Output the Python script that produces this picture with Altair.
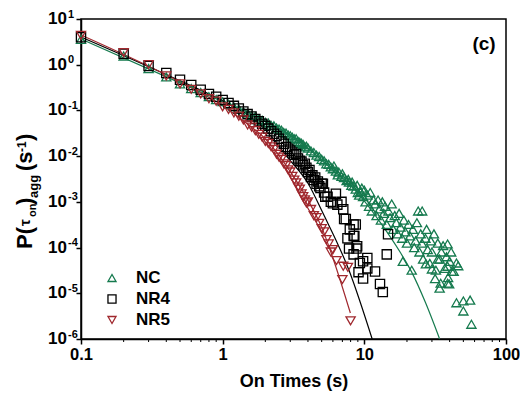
import altair as alt
import pandas as pd

# ---------------- data ----------------
series_names = ["NC", "NR4", "NR5"]
series_colors = ["#157a4e", "#000000", "#a0282e"]
series_shapes = ["triangle-up", "square", "triangle-down"]

nc_t = [0.1, 0.2, 0.3, 0.4, 0.5, 0.6, 0.7, 0.8, 0.9, 1.0,
        1.1, 1.2, 1.3, 1.4, 1.5, 1.6, 1.7, 1.8, 1.9, 2.0,
        2.1, 2.2, 2.3, 2.4, 2.5, 2.6, 2.7, 2.8, 2.9, 3.0,
        3.1, 3.2, 3.3, 3.4, 3.5, 3.6, 3.7, 3.8, 3.9, 4.0,
        4.2, 4.4, 4.6, 4.8, 5.0, 5.2, 5.4, 5.6, 5.8, 6.0,
        6.1, 6.3, 6.5, 6.6, 6.9, 7.0, 7.2, 7.5, 7.7, 7.8, 8.1, 8.2, 8.4, 8.7, 8.9, 9.0, 9.2, 9.4, 9.6, 9.8,
        10.0, 10.2, 10.5, 10.8, 11.0, 11.3, 11.6, 11.9, 12.2, 12.5, 12.8, 13.1, 13.4, 13.7, 14.0,
        14.4, 14.8, 15.2, 15.6, 16.0, 16.4, 16.8, 17.2, 17.6, 18.0, 18.5, 18.7, 19.0, 19.5, 20.0,
        20.5, 21.0, 21.6, 22.0, 22.5, 23.0, 23.5, 24.0, 24.5, 25.0, 25.5, 25.6, 26.0, 27.0, 27.2,
        27.5, 28.0, 29.0, 29.5, 30.0, 30.0, 31.0, 31.6, 32.0, 33.0, 33.0, 34.0, 34.0, 34.6, 35.0,
        36.0, 37.0, 38.0, 38.7, 38.7, 38.7, 39.0, 39.7, 40.0, 41.0, 41.5, 42.7, 44.7, 44.7, 46.0,
        50.0, 50.0, 55.8, 57.0]
nc_p = [3.6, 1.55, 0.82, 0.54, 0.38, 0.30, 0.245, 0.20, 0.172, 0.155,
        0.137, 0.12, 0.107, 0.094, 0.087, 0.077, 0.073, 0.064, 0.061, 0.055,
        0.053, 0.047, 0.046, 0.041, 0.039, 0.037, 0.033, 0.032, 0.029, 0.028,
        0.026, 0.024, 0.024, 0.021, 0.020, 0.019, 0.018, 0.016, 0.0165, 0.015,
        0.013, 0.012, 0.0105, 0.0098, 0.0085, 0.0079, 0.0068, 0.0066, 0.0058, 0.0053,
        0.0061, 0.0047, 0.0039, 0.0045, 0.0036, 0.0041, 0.0034, 0.0029, 0.0031, 0.0027, 0.0023, 0.0027, 0.0022, 0.0019, 0.0023, 0.0016, 0.0014, 0.0017, 0.0020, 0.0013,
        1.8e-3, 1.0e-3, 1.4e-3, 8.0e-4, 1.6e-3, 6.3e-4, 1.1e-3, 9.0e-4, 5.0e-4, 1.1e-3, 7.0e-4, 4.0e-4, 1.0e-3, 5.6e-4, 8.0e-4,
        3.2e-4, 6.3e-4, 4.5e-4, 9.0e-4, 2.5e-4, 5.0e-4, 3.5e-4, 2.0e-4, 5.6e-4, 2.8e-4, 1.6e-4, 5.0e-5, 4.0e-4, 2.2e-4, 1.25e-4,
        3.2e-4, 1.8e-4, 3.2e-5, 2.5e-4, 1.0e-4, 1.4e-4, 3.5e-4, 6.3e-4, 8.0e-5, 2.0e-4, 1.25e-4, 6.3e-4, 5.6e-5, 1.6e-4, 4.4e-5,
        2.5e-4, 9.0e-5, 4.5e-5, 1.4e-4, 8.0e-5, 3.4e-5, 2.0e-4, 2.1e-5, 3.2e-5, 1.25e-4, 5.6e-5, 5.6e-5, 1.3e-5, 1.66e-5, 8.0e-5,
        1.1e-4, 3.5e-5, 6.3e-5, 1.2e-4, 3.9e-5, 1.66e-5, 2.2e-5, 1.6e-5, 5.0e-5, 8.0e-5, 3.0e-5, 3.0e-5, 4.6e-5, 6.2e-6, 4.0e-5,
        6.8e-6, 4.1e-6, 7.1e-6, 2.1e-6]

nr4_t = [0.1, 0.2, 0.3, 0.4, 0.5, 0.6, 0.7, 0.8, 0.9, 1.0,
         1.1, 1.2, 1.3, 1.4, 1.5, 1.6, 1.7, 1.8, 1.9, 2.0,
         2.1, 2.2, 2.3, 2.4, 2.5, 2.6, 2.7, 2.8, 2.9, 3.0,
         3.1, 3.2, 3.3, 3.4, 3.5, 3.6, 3.7, 3.8, 3.9, 4.0,
         4.1, 4.2, 4.3, 4.4, 4.5, 4.6, 4.7, 4.8, 4.9, 5.0,
         5.1, 5.2, 5.3, 5.5, 5.8, 6.0, 6.3, 6.45, 6.9, 7.1,
         7.2, 7.4, 7.6, 7.8, 7.9, 8.4, 8.4, 8.4, 8.5, 8.7,
         8.8, 8.9, 9.1, 9.3, 9.8, 9.8, 10.5, 10.5, 11.9, 12.9,
         13.5, 14.4, 14.7]
nr4_p = [4.0, 1.73, 0.94, 0.66, 0.47, 0.36, 0.285, 0.23, 0.2, 0.17,
         0.145, 0.126, 0.11, 0.095, 0.083, 0.074, 0.065, 0.058, 0.051, 0.046,
         0.040, 0.035, 0.031, 0.0275, 0.024, 0.021, 0.0186, 0.0158, 0.0145, 0.0132,
         0.012, 0.0107, 0.0112, 0.0089, 0.0079, 0.0076, 0.0063, 0.0068, 0.0056, 0.0045,
         0.005, 0.0035, 0.0038, 0.003, 0.0034, 0.0025, 0.0028, 0.0022, 0.002, 0.0025,
         0.0025, 0.0016, 0.0013, 0.0013, 0.001, 9.3e-4, 1.5e-3, 8.7e-4, 1.0e-3, 6.9e-4,
         4.2e-4, 4.2e-4, 1.6e-4, 9.5e-5, 2.5e-4, 3.2e-4, 1.8e-4, 7.1e-5, 1.8e-4, 3.2e-4,
         9.5e-5, 1.07e-4, 2.9e-5, 4.6e-5, 5.0e-5, 2.1e-5, 5.9e-5, 3.5e-5, 3.0e-5, 1.6e-5,
         1.07e-5, 7.1e-5, 1.95e-4]

nr5_t = [0.1, 0.2, 0.3, 0.4, 0.5, 0.6, 0.7, 0.8, 0.9, 1.0,
         1.1, 1.2, 1.3, 1.4, 1.5, 1.6, 1.7, 1.8, 1.9, 2.0,
         2.1, 2.2, 2.3, 2.4, 2.5, 2.6, 2.7, 2.8, 2.9, 3.0,
         3.1, 3.2, 3.3, 3.4, 3.5, 3.6, 3.7, 3.8, 3.9, 4.0,
         4.2, 4.4, 4.6, 4.8, 5.0, 5.2, 5.4, 5.6, 5.8, 6.0,
         6.36, 7.0, 7.1, 7.66, 8.0]
nr5_p = [4.4, 1.84, 1.0, 0.57, 0.38, 0.29, 0.23, 0.18, 0.16, 0.12,
         0.105, 0.088, 0.075, 0.062, 0.048, 0.043, 0.036, 0.030, 0.026, 0.021,
         0.019, 0.016, 0.014, 0.011, 0.0095, 0.0085, 0.0068, 0.0062, 0.0050, 0.0045,
         0.0036, 0.0030, 0.0026, 0.0021, 0.0019, 0.0015, 0.0013, 0.0011, 9.5e-4, 1.0e-3,
         6.8e-4, 5.0e-4, 4.5e-4, 3.4e-4, 2.6e-4, 2.2e-4, 1.5e-4, 1.2e-4, 8.0e-5, 9.0e-5,
         5.2e-5, 2.0e-5, 3.9e-5, 3.7e-5, 2.5e-6]

# fitted curves
nc_fit_t = [0.1, 0.5, 1.0, 2.0, 3.33, 5.41, 8.77, 13.1, 18.1, 21.6, 27.1, 34.0]
nc_fit_p = [3.66, 0.40, 0.155, 0.059, 0.023, 6.55e-3, 1.69e-3, 3.39e-4, 7.5e-5, 2.9e-5, 6.1e-6, 1.0e-6]
nr4_fit_t = [0.1, 0.5, 1.0, 1.49, 2.0, 2.84, 4.05, 5.07, 7.84, 11.36]
nr4_fit_p = [4.05, 0.445, 0.163, 0.081, 0.038, 0.0098, 2.4e-3, 5.9e-4, 3.04e-5, 1.0e-6]
nr5_fit_t = [0.1, 0.5, 1.0, 1.49, 2.0, 2.84, 3.33, 4.05, 5.07, 6.05, 7.97]
nr5_fit_p = [4.48, 0.42, 0.127, 0.051, 0.024, 5.9e-3, 2.8e-3, 1.02e-3, 2.5e-4, 5.5e-5, 3.7e-6]

x_major = [0.1, 1, 10, 100]
x_minor = [0.2, 0.3, 0.4, 0.5, 0.6, 0.7, 0.8, 0.9,
           2, 3, 4, 5, 6, 7, 8, 9,
           20, 30, 40, 50, 60, 70, 80, 90]
y_exponents = [1, 0, -1, -2, -3, -4, -5, -6]

# ---------------- tables ----------------
pts = pd.concat([
    pd.DataFrame({"t": nc_t, "p": nc_p, "s": "NC"}),
    pd.DataFrame({"t": nr4_t, "p": nr4_p, "s": "NR4"}),
    pd.DataFrame({"t": nr5_t, "p": nr5_p, "s": "NR5"}),
])
fits = pd.concat([
    pd.DataFrame({"t": nc_fit_t, "p": nc_fit_p, "s": "NC"}),
    pd.DataFrame({"t": nr4_fit_t, "p": nr4_fit_p, "s": "NR4"}),
    pd.DataFrame({"t": nr5_fit_t, "p": nr5_fit_p, "s": "NR5"}),
])
ylab = pd.DataFrame({"v": [10.0 ** e for e in y_exponents],
                     "e": [str(e) for e in y_exponents]})
minor = pd.DataFrame({"t": x_minor})

FONT = "Liberation Sans"
W, H = 425, 320

xs = alt.Scale(type="log", domain=[0.1, 100], nice=False)
ys = alt.Scale(type="log", domain=[1e-6, 10], nice=False)
cs = alt.Scale(domain=series_names, range=series_colors)
ss = alt.Scale(domain=series_names, range=series_shapes)

x_axis = alt.Axis(values=x_major, format="~g", title="On Times (s)", grid=False,
                  tickSize=5, tickWidth=1.5, domainWidth=1.5, domainColor="black",
                  tickColor="black", labelFont=FONT, labelFontWeight="bold",
                  labelFontSize=16.5, labelColor="black", labelPadding=2,
                  labelFlush=False, labelOverlap=False,
                  titleFont=FONT, titleFontWeight="bold", titleFontSize=18,
                  titleColor="black", titlePadding=10)
y_axis = alt.Axis(values=[10.0 ** e for e in y_exponents], labels=False, title=None,
                  grid=False, tickSize=5, tickWidth=1.5, domainWidth=1.5,
                  domainColor="black", tickColor="black")

lines = alt.Chart(fits).mark_line(strokeWidth=1.2, interpolate="monotone").encode(
    x=alt.X("t:Q", scale=xs, axis=x_axis),
    y=alt.Y("p:Q", scale=ys, axis=y_axis),
    color=alt.Color("s:N", scale=cs, legend=None),
    detail="s:N",
)

points = alt.Chart(pts).mark_point(filled=False, size=85, strokeWidth=1.3, opacity=1).encode(
    x=alt.X("t:Q", scale=xs),
    y=alt.Y("p:Q", scale=ys),
    color=alt.Color("s:N", scale=cs, legend=None),
    shape=alt.Shape("s:N", scale=ss, legend=None),
)

minor_ticks = alt.Chart(minor).mark_rule(color="black", strokeWidth=1).encode(
    x=alt.X("t:Q", scale=xs),
    y=alt.value(H),
    y2=alt.value(H + 3),
)

ten = alt.Chart(ylab).mark_text(font=FONT, fontWeight="bold", fontSize=17,
                                align="right", baseline="middle", color="black").encode(
    y=alt.Y("v:Q", scale=ys), x=alt.value(-14), text=alt.value("10"))
expo = alt.Chart(ylab).mark_text(font=FONT, fontWeight="bold", fontSize=11,
                                 align="left", baseline="middle", dy=-4.5, color="black").encode(
    y=alt.Y("v:Q", scale=ys), x=alt.value(-13), text="e:N")

# manual legend (inside the plot, lower left)
legend_layers = []
for i, (name, col, shp) in enumerate(zip(series_names, series_colors, series_shapes)):
    one = pd.DataFrame({"s": [name]})
    legend_layers.append(alt.Chart(one).mark_point(
        filled=False, size=65, strokeWidth=1.3, opacity=1, color=col, shape=shp).encode(
        x=alt.value(31), y=alt.value(259 + 21 * i)))
    legend_layers.append(alt.Chart(one).mark_text(
        font=FONT, fontWeight="bold", fontSize=17, align="left", baseline="middle",
        color="black").encode(
        x=alt.value(55), y=alt.value(259 + 21 * i), text="s:N"))

# y-axis title built from pieces (rotated)
def tpiece(txt, x, y, size):
    return alt.Chart(pd.DataFrame({"a": [0]})).mark_text(
        text=txt, font=FONT, fontWeight="bold", fontSize=size, angle=270,
        align="left", baseline="alphabetic", color="black").encode(
        x=alt.value(x), y=alt.value(y))

title_parts = [
    tpiece("P(", -49, 230, 22),
    tpiece("τ", -51.5, 207, 15),
    tpiece("on", -45, 198, 11),
    tpiece(")", -49, 186, 22),
    tpiece("agg", -43, 179, 13),
    tpiece("(s", -49, 152, 22),
    tpiece("-1", -55, 133, 12),
    tpiece(")", -49, 122, 22),
]

label_c = alt.Chart(pd.DataFrame({"a": [0]})).mark_text(
    text="(c)", font=FONT, fontWeight="bold", fontSize=19, align="center",
    baseline="middle", color="black").encode(x=alt.value(403), y=alt.value(25))

chart = alt.layer(lines, points, minor_ticks, ten, expo, label_c,
                  *legend_layers, *title_parts).properties(
    width=W, height=H,
    autosize=alt.AutoSizeParams(type="none"),
    padding={"left": 73, "top": 11, "right": 14, "bottom": 53},
).configure_view(stroke="black", strokeWidth=1.5)

chart.save("out.html", embed_options={"renderer": "svg", "actions": False})
